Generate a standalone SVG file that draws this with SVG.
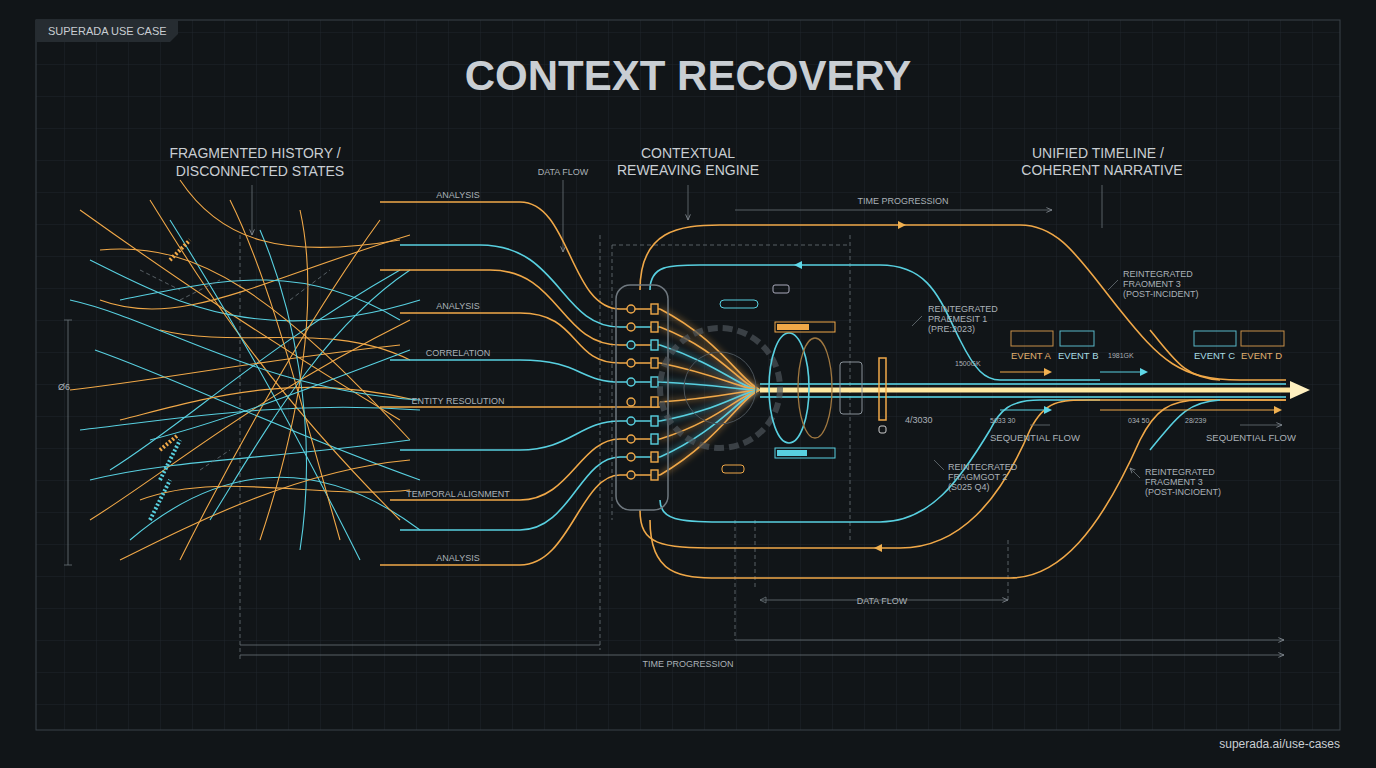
<svg xmlns="http://www.w3.org/2000/svg" width="1376" height="768" viewBox="0 0 1376 768">
<defs>
<pattern id="grid" width="32" height="32" patternUnits="userSpaceOnUse"><path d="M32 0H0V32" fill="none" stroke="#1f262c" stroke-width="1"/></pattern>
<filter id="glow" x="-20%" y="-50%" width="140%" height="200%"><feGaussianBlur stdDeviation="3" result="b"/><feMerge><feMergeNode in="b"/><feMergeNode in="SourceGraphic"/></feMerge></filter>
<filter id="bigglow" x="-20%" y="-200%" width="140%" height="500%"><feGaussianBlur stdDeviation="8"/></filter>
<marker id="ar" markerWidth="8" markerHeight="8" refX="7" refY="4" orient="auto"><path d="M0 1L7 4L0 7" fill="none" stroke="#8a9299" stroke-width="1"/></marker>
<marker id="ao" markerWidth="8" markerHeight="8" refX="6" refY="4" orient="auto" markerUnits="userSpaceOnUse"><path d="M0 0L8 4L0 8z" fill="#f0b050"/></marker>
<marker id="ac" markerWidth="8" markerHeight="8" refX="6" refY="4" orient="auto" markerUnits="userSpaceOnUse"><path d="M0 0L8 4L0 8z" fill="#5fd8e8"/></marker>
<style>
.t{font-family:"Liberation Sans",Arial,sans-serif;fill:#c9ced3}
.s{font-size:9px;fill:#aab1b7}
.h{font-size:14px;text-anchor:middle}
.o{fill:none;stroke:#f0a848;stroke-width:1.6}
.c{fill:none;stroke:#58d0e0;stroke-width:1.6}
#chaos .o,#chaos .c{stroke-width:1.1}
.d{fill:none;stroke:#6b737a;stroke-width:0.8;stroke-dasharray:4 3}
.g{fill:none;stroke:#6b737a;stroke-width:0.8}
</style>
</defs>
<rect width="1376" height="768" fill="#111518"/>
<rect x="36" y="20" width="1304" height="710" fill="url(#grid)" stroke="#3a4248"/>
<g id="tag"><path d="M36 20H178V34L170 42H36z" fill="#262c31"/><text x="48" y="35" class="t" font-size="11" fill="#9aa1a7">SUPERADA  USE  CASE</text></g>
<text x="688" y="90" class="t" font-size="42" font-weight="bold" text-anchor="middle" fill="#e4e6e8">CONTEXT RECOVERY</text>
<g id="headers">
<text x="255" y="158" class="t h">FRAGMENTED HISTORY /</text><text x="260" y="176" class="t h">DISCONNECTED STATES</text>
<text x="688" y="158" class="t h">CONTEXTUAL</text><text x="688" y="175" class="t h">REWEAVING ENGINE</text>
<text x="1098" y="158" class="t h">UNIFIED TIMELINE /</text><text x="1102" y="175" class="t h">COHERENT NARRATIVE</text>
</g>
<g id="guides">
<path class="g" d="M252 185V235" marker-end="url(#ar)"/>
<path class="g" d="M563 180V252" marker-end="url(#ar)"/>
<path class="g" d="M688 185V220" marker-end="url(#ar)"/>
<path class="g" d="M1102 185V228"/>
<path class="g" d="M735 210H1052" marker-end="url(#ar)"/>
<text x="903" y="204" class="t s" text-anchor="middle">TIME PROGRESSION</text>
<text x="563" y="175" class="t s" text-anchor="middle">DATA FLOW</text>
<path class="g" d="M760 600H1008" marker-end="url(#ar)"/><path class="g" d="M760 600l6-3v6z"/>
<text x="882" y="604" class="t s" text-anchor="middle">DATA FLOW</text>
<path class="g" d="M240 645H600M735 640H1284" marker-end="url(#ar)"/>
<path class="g" d="M240 655H1284" marker-end="url(#ar)"/>
<text x="688" y="667" class="t s" text-anchor="middle">TIME PROGRESSION</text>
<path class="d" d="M240 235V660M600 235V650M612 245H850M612 245V520M850 235V540M735 520V640M755 520V590M1008 540V600"/>
<path class="g" d="M68 320V565M64 320h8M64 565h8"/>
<text x="58" y="390" class="t s">Ø6</text>
</g>
<g id="chaos" fill="none">
<path class="o" d="M80 210C150 260 250 330 400 420"/><path class="c" d="M90 260C170 300 260 350 420 300"/>
<path class="o" d="M100 300C180 330 260 280 410 235"/><path class="c" d="M110 470C190 420 260 350 400 270"/>
<path class="o" d="M90 520C170 470 250 400 410 320"/><path class="c" d="M95 350C180 380 280 430 420 480"/>
<path class="o" d="M120 420C200 400 290 370 415 400"/><path class="c" d="M130 540C200 480 300 440 420 530"/>
<path class="o" d="M150 200C200 280 260 380 400 520"/><path class="c" d="M170 220C220 300 280 400 360 560"/>
<path class="o" d="M70 390C160 380 260 360 400 345"/><path class="c" d="M80 430C170 420 280 400 420 410"/>
<path class="o" d="M180 560C220 480 300 330 380 220"/><path class="c" d="M210 520C260 440 320 330 410 270"/>
<path class="o" d="M100 250C200 240 280 300 410 440"/><path class="c" d="M120 300C220 280 300 260 400 320"/>
<path class="o" d="M140 500C220 470 320 500 410 490"/><path class="o" d="M160 330C240 350 330 320 410 360"/>
<path class="c" d="M90 480C170 460 260 460 410 440"/><path class="o" d="M230 200C270 280 300 400 340 540"/>
<path class="c" d="M260 230C290 300 320 420 300 550"/><path class="o" d="M300 210C320 300 300 420 260 540"/>
<path class="c" d="M70 300C160 320 260 390 420 400"/><path class="o" d="M120 560C200 520 300 470 410 460"/>
<path class="o" d="M180 180C220 240 280 260 400 240"/><path class="c" d="M150 440C230 420 330 380 410 350"/>
<path class="d" d="M180 300l40 -20M200 470l30-20M140 270l40 20M290 300l40-30" stroke="#f0a848"/>
<path d="M160 480l20-40M150 520l20-40" stroke="#58d0e0" stroke-width="4" stroke-dasharray="2 2"/>
<path d="M170 260l20-20M160 450l18-15" stroke="#f0a848" stroke-width="4" stroke-dasharray="2 2"/>
</g>
<g id="connectors">
<g class="t s" text-anchor="middle"><text x="458" y="198">ANALYSIS</text><text x="458" y="309">ANALYSIS</text><text x="458" y="356">CORRELATION</text><text x="458" y="404">ENTITY RESOLUTION</text><text x="458" y="497">TEMPORAL ALIGNMENT</text><text x="458" y="561">ANALYSIS</text></g>
<path class="o" d="M380 202H520C570 202 570 309 620 309H660"/>
<path class="c" d="M400 245H480C560 245 560 327 620 327H660"/>
<path class="o" d="M380 270H490C560 270 560 345 620 345H660"/>
<path class="o" d="M400 313H520C580 313 570 363 620 363H660"/>
<path class="c" d="M390 360H520C580 360 580 382 620 382H660"/>
<path class="o" d="M380 407H620H660"/>
<path class="c" d="M400 450H520C570 450 580 421 620 421H660"/>
<path class="o" d="M390 500H520C570 500 580 439 620 439H660"/>
<path class="c" d="M400 530H520C570 530 580 457 620 457H660"/>
<path class="o" d="M380 565H520C570 565 580 475 620 475H660"/>
<g filter="url(#glow)">
<path class="o" d="M660 309C720 340 740 380 760 390"/><path class="o" d="M660 327C720 350 740 385 760 390"/>
<path class="c" d="M660 345C720 365 740 388 760 390"/><path class="o" d="M660 363C720 375 740 389 760 390"/>
<path class="c" d="M660 382C720 385 740 390 760 390"/><path class="o" d="M660 402C720 398 740 391 760 390"/>
<path class="c" d="M660 421C720 410 740 392 760 390"/><path class="o" d="M660 439C720 420 740 394 760 390"/>
<path class="c" d="M660 457C720 430 740 396 760 390"/><path class="o" d="M660 475C720 440 740 398 760 390"/>
</g>
<path d="M760 390H1290" stroke="#f0c060" stroke-width="14" filter="url(#bigglow)" opacity="0.8"/>
<path d="M760 384H1286M760 397H1286" stroke="#58d0e0" stroke-width="2" opacity="0.8"/>
<path d="M760 390H1292" stroke="#ffe8a0" stroke-width="5"/>
<path d="M1290 381L1310 390L1290 399z" fill="#fff0c0"/>
<path class="o" d="M640 290C640 230 680 225 720 225H1020C1060 225 1080 260 1120 310C1160 360 1180 380 1240 380H1286"/>
<path class="c" d="M650 290C650 265 670 265 700 265H880C930 265 940 300 960 340C975 370 985 380 1000 380H1100"/>
<path class="c" d="M660 500C660 520 680 522 720 522H880C930 522 960 480 990 430C1000 410 1010 400 1040 400H1100"/>
<path class="o" d="M640 510C640 545 660 548 720 548H900C960 548 1000 500 1030 430C1045 400 1060 400 1090 400H1286"/>
<path class="o" d="M650 520C650 575 680 578 720 578H1010C1060 578 1100 530 1140 440C1155 410 1170 400 1200 400H1286"/>
<path class="o" d="M1150 330C1175 360 1185 378 1220 380"/>
<path class="c" d="M1150 450C1175 420 1185 402 1220 400"/>
<path d="M1000 372H1050" stroke="#f0a848" marker-end="url(#ao)"/><path d="M1100 372H1146" stroke="#58d0e0" marker-end="url(#ac)"/>
<path d="M1000 410H1050" stroke="#58d0e0" marker-end="url(#ac)"/><path d="M1100 410H1280" stroke="#f0a848" marker-end="url(#ao)"/>
<path class="g" d="M1030 425H1050M1240 425H1282" marker-end="url(#ar)"/>
<path d="M800 265h-4" stroke="#58d0e0" marker-end="url(#ac)"/><path d="M900 225h4" stroke="#f0a848" marker-end="url(#ao)"/>
<path d="M880 548h-4" stroke="#f0a848" marker-end="url(#ao)"/>
</g>
<g id="engine">
<rect x="616" y="285" width="52" height="225" rx="14" fill="none" stroke="#6f787f" stroke-width="1.5"/>
<g fill="#1a1f22" stroke="#f0a848" stroke-width="1.4">
<circle cx="631" cy="309" r="4"/><circle cx="631" cy="327" r="4"/><circle cx="631" cy="345" r="4" stroke="#58d0e0"/><circle cx="631" cy="363" r="4"/><circle cx="631" cy="382" r="4" stroke="#58d0e0"/><circle cx="631" cy="402" r="4"/><circle cx="631" cy="421" r="4" stroke="#58d0e0"/><circle cx="631" cy="439" r="4"/><circle cx="631" cy="457" r="4"/><circle cx="631" cy="475" r="4"/>
<rect x="651" y="304" width="7" height="10"/><rect x="651" y="322" width="7" height="10"/><rect x="651" y="340" width="7" height="10" stroke="#58d0e0"/><rect x="651" y="358" width="7" height="10"/><rect x="651" y="377" width="7" height="10" stroke="#58d0e0"/><rect x="651" y="397" width="7" height="10"/><rect x="651" y="416" width="7" height="10" stroke="#58d0e0"/><rect x="651" y="434" width="7" height="10" stroke="#58d0e0"/><rect x="651" y="452" width="7" height="10"/><rect x="651" y="470" width="7" height="10"/>
</g>
<circle cx="720" cy="388" r="60" fill="none" stroke="#4b5359" stroke-dasharray="10 5" stroke-width="6" opacity="0.7"/>
<circle cx="720" cy="388" r="36" fill="none" stroke="#4b5359"/>
<ellipse cx="789" cy="388" rx="20" ry="55" fill="none" stroke="#58d0e0" stroke-width="1.6"/>
<ellipse cx="815" cy="388" rx="17" ry="50" fill="none" stroke="#a07840" stroke-width="1.3"/>
<rect x="775" y="322" width="60" height="10" fill="none" stroke="#f0a848"/><rect x="777" y="324" width="32" height="6" fill="#f0a848"/>
<rect x="775" y="448" width="60" height="10" fill="none" stroke="#58d0e0"/><rect x="777" y="450" width="30" height="6" fill="#58d0e0"/>
<rect x="720" y="300" width="38" height="8" rx="4" fill="none" stroke="#58d0e0"/>
<rect x="773" y="285" width="16" height="8" rx="2" fill="none" stroke="#aab"/>
<rect x="722" y="465" width="22" height="8" rx="3" fill="none" stroke="#f0a848"/>
<rect x="840" y="362" width="22" height="52" rx="3" fill="none" stroke="#8a9299"/>
<rect x="879" y="358" width="7" height="62" fill="none" stroke="#f0a848" stroke-width="1.5"/>
<rect x="879" y="426" width="7" height="7" rx="2" fill="none" stroke="#ccc"/>
<text x="905" y="423" class="t s" font-size="7">4/3030</text>
</g>
<g id="events" class="t s">
<rect x="1011" y="331" width="42" height="15" fill="none" stroke="#c89048"/><text x="1011" y="359" font-size="9.5" fill="#e0b070">EVENT A</text>
<rect x="1060" y="331" width="34" height="15" fill="none" stroke="#58b8c8"/><text x="1058" y="359" font-size="9.5" fill="#a8dde5">EVENT B</text>
<rect x="1194" y="331" width="42" height="15" fill="none" stroke="#58b8c8"/><text x="1194" y="359" font-size="9.5" fill="#a8dde5">EVENT C</text>
<rect x="1241" y="331" width="43" height="15" fill="none" stroke="#c89048"/><text x="1241" y="359" font-size="9.5" fill="#e0b070">EVENT D</text>
<text x="955" y="366" font-size="7">1500GK</text><text x="1108" y="358" font-size="7">1981GK</text>
<text x="990" y="423" font-size="7">5033 30</text><text x="1128" y="423" font-size="7">034 50</text><text x="1185" y="423" font-size="7">28/239</text>
<text x="990" y="441" font-size="9.5">SEQUENTIAL FLOW</text><text x="1206" y="441" font-size="9.5">SEQUENTIAL FLOW</text>
<text x="928" y="312">REINTEGRATED</text><text x="928" y="322">PRAEMESIT 1</text><text x="928" y="332">(PRE:2023)</text>
<text x="1123" y="277">REINTEGRATED</text><text x="1123" y="287">FRAOMENT 3</text><text x="1123" y="297">(POST-INCIDENT)</text>
<text x="948" y="470">REINTECRATED</text><text x="948" y="480">FRAGMGOT 2</text><text x="948" y="490">(S025 Q4)</text>
<text x="1145" y="475">REINTEGRATED</text><text x="1145" y="485">FRAGMENT 3</text><text x="1145" y="495">(POST-INCIOENT)</text>
<path class="g" d="M922 316l-10 10M1118 280l-10 10M944 470l-10-10M1140 478l-10-10" marker-end="url(#ar)"/>
</g>
<text x="1340" y="748" class="t" font-size="12" text-anchor="end" fill="#6f777e">superada.ai/use-cases</text>
</svg>
